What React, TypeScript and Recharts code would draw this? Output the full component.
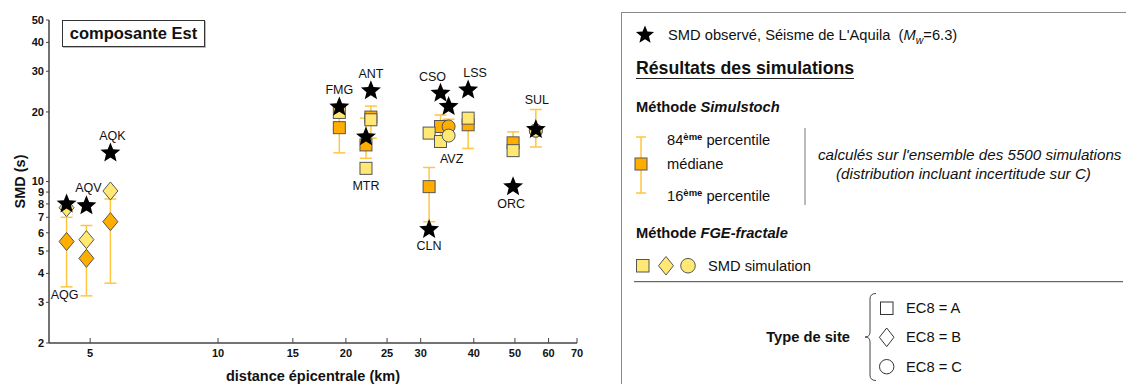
import React from 'react';
import { ScatterChart, Scatter, XAxis, YAxis } from 'recharts';

const FONT = 'Arial, "Liberation Sans", Helvetica, sans-serif';
const ORANGE = '#FFAE00';
const YELLOW = '#FFE873';
const BAR = '#FFC640';
const EDGE = '#555555';
const AXIS = '#444444';
const INK = '#111111';

// stations, epicentral distance (km) and EC8 site class
const stations = ['AQG', 'AQV', 'AQK', 'FMG', 'ANT', 'MTR', 'CLN', 'CSO', 'AVZ', 'LSS', 'ORC', 'SUL'];
const distanceKm = [4.4, 4.9, 5.58, 19.3, 22.9, 22.3, 31.4, 33.4, 34.9, 38.8, 49.5, 56.0];
const siteClass = ['B', 'B', 'B', 'A', 'A', 'A', 'A', 'A', 'C', 'A', 'A', 'C'];

// SMD (s): observed, Simulstoch median / 16th / 84th percentiles, FGE-fractale
const smdObserved = [8.0, 7.85, 13.3, 21.0, 24.7, 15.6, 6.2, 24.1, 21.1, 24.9, 9.5, 16.8];
const smdMedian = [5.5, 4.65, 6.7, 17.1, 19.0, 14.4, 9.5, 17.3, 17.3, 17.6, 14.7, 16.6];
const smdP16 = [3.5, 3.2, 3.63, 13.3, 15.4, 12.6, 6.7, 15.5, 15.8, 13.9, 13.4, 14.1];
const smdP84 = [7.0, 6.45, 8.4, 20.3, 21.2, 18.8, 11.5, 19.4, 18.6, 19.0, 16.4, 20.5];
const smdFge = [7.7, 5.6, 9.1, 19.9, 18.5, 11.4, 16.2, 14.9, 15.8, 18.8, 13.6, 16.6];

const xTicks = [5, 10, 15, 20, 25, 30, 40, 50, 60, 70];
const yTicks = [2, 3, 4, 5, 6, 7, 8, 9, 10, 20, 30, 40, 50];

// where each station name sits relative to its star (px)
const labelOffset: Record<string, [number, number]> = {
  AQG: [-2, 91], AQV: [2, -18], AQK: [2, -17], FMG: [0, -17], ANT: [0, -17], MTR: [0, 49],
  CLN: [0, 17], CSO: [-8, -16], AVZ: [3, 52], LSS: [7, -17], ORC: [-2, 17], SUL: [1, -29],
};

const medianData = stations.map((name, i) => ({ name, site: siteClass[i], dist: distanceKm[i], smd: smdMedian[i] }));
const fgeData = stations.map((name, i) => ({ name, site: siteClass[i], dist: distanceKm[i], smd: smdFge[i] }));
const obsData = stations.map((name, i) => ({ name, dist: distanceKm[i], smd: smdObserved[i] }));
// one 16th-84th percentile segment per station
const spreadData = stations.map((_, i) => [
  { dist: distanceKm[i], smd: smdP16[i] },
  { dist: distanceKm[i], smd: smdP84[i] },
]);

function starPoints(cx: number, cy: number, R: number, r: number) {
  const pts: string[] = [];
  for (let k = 0; k < 10; k++) {
    const rad = k % 2 === 0 ? R : r;
    const a = -Math.PI / 2 + (k * Math.PI) / 5;
    pts.push(`${(cx + rad * Math.cos(a)).toFixed(2)},${(cy + rad * Math.sin(a)).toFixed(2)}`);
  }
  return pts.join(' ');
}

function SiteMarker({ cx, cy, site, fill, stroke, sw = 1 }: any) {
  if (site === 'A') return <rect x={cx - 6} y={cy - 6} width={12} height={12} fill={fill} stroke={stroke} strokeWidth={sw} />;
  if (site === 'B')
    return <path d={`M${cx},${cy - 9}L${cx + 7.5},${cy}L${cx},${cy + 9}L${cx - 7.5},${cy}Z`} fill={fill} stroke={stroke} strokeWidth={sw} />;
  return <circle cx={cx} cy={cy} r={6.5} fill={fill} stroke={stroke} strokeWidth={sw} />;
}

const capShape = (p: any) => <line x1={p.cx - 6} x2={p.cx + 6} y1={p.cy} y2={p.cy} stroke={BAR} strokeWidth={1.5} />;
const medianShape = (p: any) => <SiteMarker cx={p.cx} cy={p.cy} site={p.payload.site} fill={ORANGE} stroke={EDGE} />;
const fgeShape = (p: any) => <SiteMarker cx={p.cx} cy={p.cy} site={p.payload.site} fill={YELLOW} stroke={EDGE} />;
const obsShape = (p: any) => {
  const [dx, dy] = labelOffset[p.payload.name] || [0, -17];
  return (
    <g>
      <polygon points={starPoints(p.cx, p.cy, 10.5, 4.6)} fill="#000" />
      <text x={p.cx + dx} y={p.cy + dy} textAnchor="middle" dominantBaseline="central"
        fontFamily={FONT} fontSize={12.5} fill={INK}>{p.payload.name}</text>
    </g>
  );
};

const XTick = (p: any) => {
  const axisY = p.y - 6;
  return (
    <g>
      <line x1={p.x} x2={p.x} y1={axisY} y2={axisY - 5} stroke={AXIS} strokeWidth={1} />
      <text x={p.x} y={p.y} dy="0.71em" textAnchor="middle" fontFamily={FONT} fontSize={11} fontWeight="bold" fill={INK}>
        {p.payload.value}
      </text>
    </g>
  );
};

const YTick = (p: any) => (
  <text x={p.x} y={p.y} dy="0.355em" textAnchor="end" fontFamily={FONT} fontSize={11} fontWeight="bold" fill={INK}>
    {p.payload.value}
  </text>
);

const abs = (left: number, top: number, extra: React.CSSProperties = {}): React.CSSProperties => ({
  position: 'absolute', left, top, whiteSpace: 'nowrap', ...extra,
});

function LegendPanel() {
  const line = (top: number, left: number, content: React.ReactNode, extra: React.CSSProperties = {}) => (
    <div style={abs(left, top - 9, { height: 18, lineHeight: '18px', fontSize: 14.7, ...extra })}>{content}</div>
  );
  const sup = { fontSize: 9.5, fontWeight: 'bold' as const, verticalAlign: 5 };
  return (
    <div style={{ position: 'absolute', left: 0, top: 0, width: 1126, height: 384, fontFamily: FONT, color: INK, pointerEvents: 'none' }}>
      <div style={abs(621, 12, { width: 520, height: 400, border: '1.5px solid #8a8a8a', boxSizing: 'border-box' })} />
      <svg style={abs(0, 0)} width={1126} height={384}>
        <polygon points={starPoints(645, 35, 9.5, 4.2)} fill="#000" />
        {/* Simulstoch icon */}
        <line x1={641} x2={641} y1={137} y2={193} stroke={BAR} strokeWidth={1.5} />
        <line x1={636} x2={646} y1={137} y2={137} stroke={BAR} strokeWidth={1.5} />
        <line x1={636} x2={646} y1={193} y2={193} stroke={BAR} strokeWidth={1.5} />
        <rect x={635} y={158} width={12} height={12} fill={ORANGE} stroke={EDGE} />
        <line x1={805} x2={805} y1={128} y2={205} stroke="#777" strokeWidth={1} />
        {/* FGE icons */}
        <rect x={636.5} y={259.5} width={12.5} height={12.5} fill={YELLOW} stroke={EDGE} />
        <path d="M666,256.5L673.5,265.7L666,275L658.5,265.7Z" fill={YELLOW} stroke={EDGE} />
        <circle cx={688} cy={265.7} r={7.3} fill={YELLOW} stroke={EDGE} />
        <line x1={634} x2={1123} y1={281.7} y2={281.7} stroke="#444" strokeWidth={1} />
        {/* site-type brace */}
        <path d="M876,293.5 Q870,293.5 870,299 L870,332 Q870,337 865,337 Q870,337 870,342 L870,375 Q870,380.5 876,380.5"
          fill="none" stroke="#444" strokeWidth={1} />
        <rect x={880.5} y={302} width={12.5} height={12.5} fill="none" stroke="#333" />
        <path d="M886.7,328L894,337.3L886.7,346.6L879.4,337.3Z" fill="none" stroke="#333" />
        <circle cx={886.7} cy={366.7} r={7.2} fill="none" stroke="#333" />
      </svg>
      {line(35, 668, <>SMD observé, Séisme de L'Aquila&nbsp; (<i>M<sub style={{ fontSize: 10.5 }}>w</sub></i>=6.3)</>)}
      <div style={abs(636, 59, { fontSize: 17.7, fontWeight: 'bold', lineHeight: '19px', borderBottom: '1.5px solid #222' })}>
        Résultats des simulations
      </div>
      {line(107, 636, <>Méthode <i>Simulstoch</i></>, { fontSize: 14.7, fontWeight: 'bold' })}
      {line(137, 667, <>84<span style={sup}>ème</span> percentile</>)}
      {line(164, 667, <>médiane</>)}
      {line(193, 667, <>16<span style={sup}>ème</span> percentile</>)}
      {line(155, 818, <i>calculés sur l'ensemble des 5500 simulations</i>, { fontSize: 15.2 })}
      {line(174, 836, <i>(distribution incluant incertitude sur C)</i>, { fontSize: 15.2 })}
      {line(233, 636, <>Méthode <i>FGE-fractale</i></>, { fontSize: 14.7, fontWeight: 'bold' })}
      {line(266, 708, <>SMD simulation</>)}
      <div style={abs(700, 328, { width: 150, textAlign: 'right', fontSize: 14.7, fontWeight: 'bold', lineHeight: '18px' })}>Type de site</div>
      {line(308, 906, <>EC8 = A</>)}
      {line(337, 906, <>EC8 = B</>)}
      {line(367, 906, <>EC8 = C</>)}
    </div>
  );
}

export default function App() {
  return (
    <div style={{ position: 'absolute', left: 0, top: 0, width: 1126, height: 384, background: '#fff', overflow: 'hidden' }}>
      <ScatterChart width={600} height={384} margin={{ top: 20, right: 23, bottom: 0, left: 0 }}>
        <XAxis
          type="number" dataKey="dist" scale="log" domain={[4, 70]} ticks={xTicks} interval={0} allowDataOverflow
          height={41} axisLine={{ stroke: AXIS, strokeWidth: 1.5 }} tickLine={false} tickSize={0} tickMargin={6}
          tick={(p: any) => <XTick {...p} />}
          label={{
            content: (p: any) => {
              const vb = p.viewBox || { x: 49, y: 343, width: 528, height: 41 };
              return (
                <text x={vb.x + vb.width / 2} y={376} textAnchor="middle" dominantBaseline="central"
                  fontFamily={FONT} fontSize={14.5} fontWeight="bold" fill={INK}>distance épicentrale (km)</text>
              );
            },
          }}
        />
        <YAxis
          type="number" dataKey="smd" scale="log" domain={[2, 50]} ticks={yTicks} interval={0} allowDataOverflow
          width={49} axisLine={{ stroke: AXIS, strokeWidth: 1.5 }} tickLine={{ stroke: AXIS }} tickSize={3} tickMargin={2}
          tick={(p: any) => <YTick {...p} />}
          label={{
            content: (p: any) => {
              const vb = p.viewBox || { x: 0, y: 20, width: 49, height: 323 };
              const cx = 20;
              const cy = vb.y + vb.height / 2;
              return (
                <text x={cx} y={cy} transform={`rotate(-90 ${cx} ${cy})`} textAnchor="middle" dominantBaseline="central"
                  fontFamily={FONT} fontSize={14.5} fontWeight="bold" fill={INK}>SMD (s)</text>
              );
            },
          }}
        />
        {spreadData.map((pts, i) => (
          <Scatter key={`spread-${i}`} data={pts} line={{ stroke: BAR, strokeWidth: 1.5 }} lineType="joint"
            shape={capShape} isAnimationActive={false} />
        ))}
        <Scatter data={medianData} shape={medianShape} isAnimationActive={false} />
        <Scatter data={fgeData} shape={fgeShape} isAnimationActive={false} />
        <Scatter data={obsData} shape={obsShape} isAnimationActive={false} />
      </ScatterChart>
      <div style={abs(62, 20, {
        width: 143, height: 27, border: '1.5px solid #333', boxSizing: 'border-box', background: '#fff',
        fontFamily: FONT, fontWeight: 'bold', fontSize: 16.5, lineHeight: '24px', textAlign: 'center', color: INK,
        boxShadow: '1px 1px 0 #bbb',
      })}>composante Est</div>
      <LegendPanel />
    </div>
  );
}
